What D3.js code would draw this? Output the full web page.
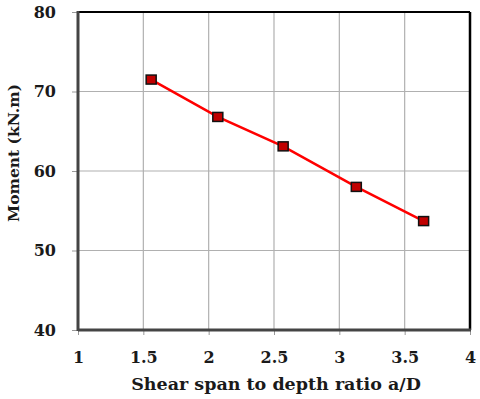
<!DOCTYPE html>
<html>
<head>
<meta charset="utf-8">
<script src="https://cdn.jsdelivr.net/npm/d3@7"></script>
<style>
  body { margin: 0; background: #fff; }
  text { font-family: "DejaVu Serif", "Liberation Serif", serif; font-weight: bold; fill: #1a1a1a; }
</style>
</head>
<body>
<div id="chart"></div>
<script>
// data
var ratio = [1.56, 2.07, 2.57, 3.13, 3.645];
var moment = [71.5, 66.8, 63.1, 58.0, 53.7];
var xTicks = [1, 1.5, 2, 2.5, 3, 3.5, 4];
var yTicks = [40, 50, 60, 70, 80];

var svgWidth = 480, svgHeight = 399;
var margin = { top: 12, right: 10, bottom: 69, left: 78 };
var width = 470 - margin.left;
var height = 330 - margin.top;

var svg = d3.select("#chart").append("svg")
  .attr("width", svgWidth)
  .attr("height", svgHeight);

var chartGroup = svg.append("g")
  .attr("transform", `translate(${margin.left}, ${margin.top})`);

var x = d3.scaleLinear().domain([1, 4]).range([0, width]);
var y = d3.scaleLinear().domain([40, 80]).range([height, 0]);

// gridlines
chartGroup.append("g")
  .selectAll("line.vx")
  .data(xTicks.slice(1, -1))
  .enter().append("line")
  .attr("x1", d => x(d)).attr("x2", d => x(d))
  .attr("y1", 0).attr("y2", height)
  .attr("stroke", "#b0b0b0").attr("stroke-width", 1.2);

chartGroup.append("g")
  .selectAll("line.hy")
  .data(yTicks.slice(1, -1))
  .enter().append("line")
  .attr("x1", 0).attr("x2", width)
  .attr("y1", d => y(d)).attr("y2", d => y(d))
  .attr("stroke", "#b0b0b0").attr("stroke-width", 1.2);

// axes
var bottomAxis = d3.axisBottom(x).tickValues(xTicks).tickFormat(d3.format("")).tickSize(5).tickPadding(17);
var leftAxis = d3.axisLeft(y).tickValues(yTicks).tickSize(6).tickPadding(16);

var xAxis = chartGroup.append("g")
  .attr("transform", `translate(0, ${height})`)
  .call(bottomAxis);
var yAxis = chartGroup.append("g").call(leftAxis);

[xAxis, yAxis].forEach(function(a) {
  a.select(".domain").remove();
  a.selectAll(".tick line").attr("stroke", "#999").attr("stroke-width", 1);
  a.selectAll("text").style("font-size", "16px").attr("fill", "#1a1a1a");
});

// frame
chartGroup.append("line").attr("x1", 0).attr("x2", width).attr("y1", 0).attr("y2", 0)
  .attr("stroke", "#000").attr("stroke-width", 2);
chartGroup.append("line").attr("x1", width).attr("x2", width).attr("y1", 0).attr("y2", height)
  .attr("stroke", "#000").attr("stroke-width", 2.5);
chartGroup.append("line").attr("x1", 0).attr("x2", 0).attr("y1", -1).attr("y2", height + 1)
  .attr("stroke", "#444").attr("stroke-width", 3);
chartGroup.append("line").attr("x1", 0).attr("x2", width + 1).attr("y1", height).attr("y2", height)
  .attr("stroke", "#444").attr("stroke-width", 3);

// series line
var line = d3.line()
  .x((d, i) => x(ratio[i]))
  .y(d => y(d));

chartGroup.append("path")
  .datum(moment)
  .attr("d", line)
  .attr("fill", "none")
  .attr("stroke", "#ff0000")
  .attr("stroke-width", 2.5);

// markers
chartGroup.selectAll("rect.pt")
  .data(moment)
  .enter().append("rect")
  .attr("x", (d, i) => x(ratio[i]) - 5)
  .attr("y", d => y(d) - 4.5)
  .attr("width", 10)
  .attr("height", 9)
  .attr("fill", "#c00000")
  .attr("stroke", "#111")
  .attr("stroke-width", 1.5);

// axis labels
svg.append("text")
  .attr("x", 276)
  .attr("y", 390)
  .attr("text-anchor", "middle")
  .style("font-size", "17.5px")
  .text("Shear span to depth ratio a/D");

svg.append("text")
  .attr("transform", "translate(19, 153) rotate(-90)")
  .attr("text-anchor", "middle")
  .style("font-size", "15.5px")
  .text("Moment (kN.m)");
</script>
</body>
</html>
